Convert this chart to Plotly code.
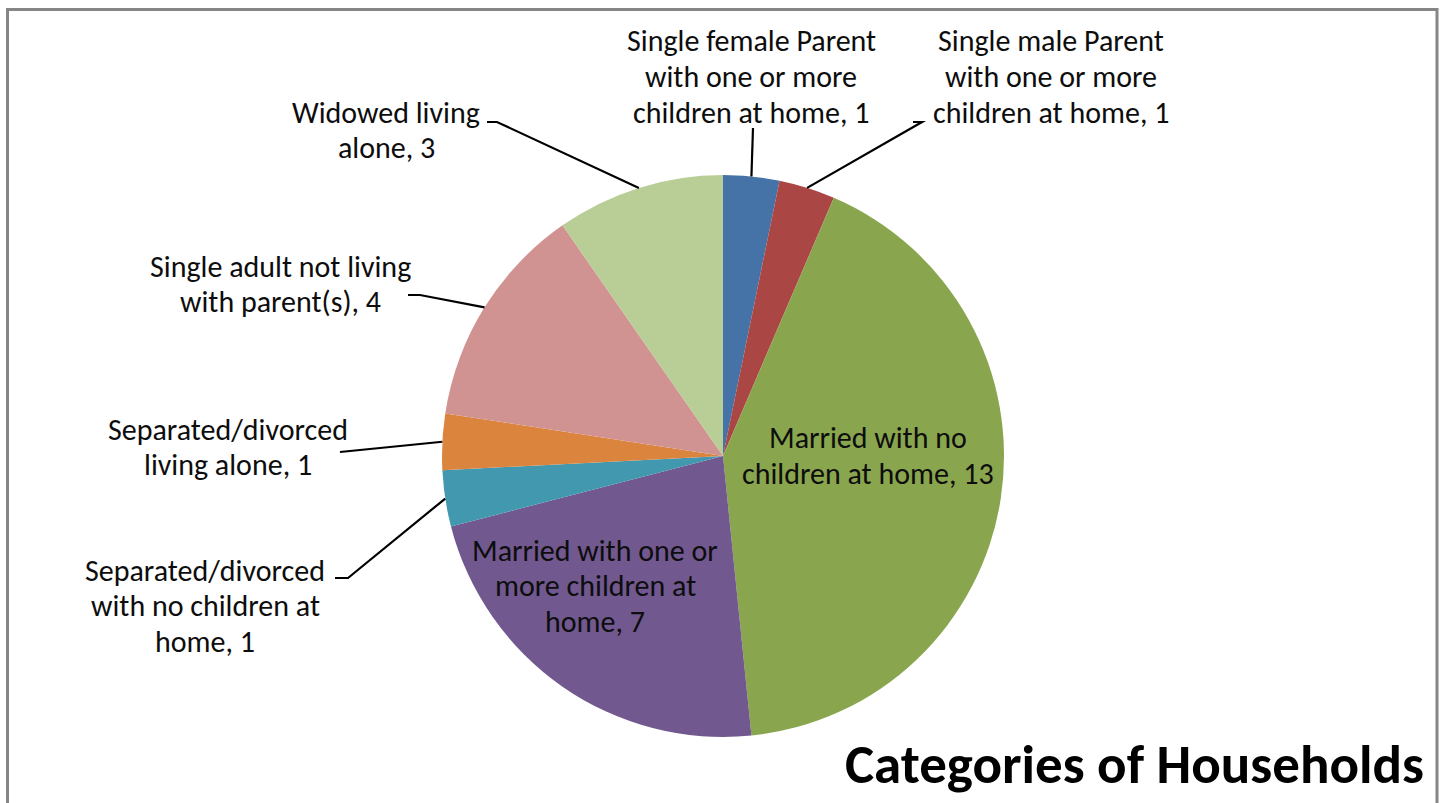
import math
import plotly.graph_objects as go

# ---------------- data ----------------
categories = [
    "Single female Parent with one or more children at home",
    "Single male Parent with one or more children at home",
    "Married with no children at home",
    "Married with one or more children at home",
    "Separated/divorced with no children at home",
    "Separated/divorced living alone",
    "Single adult not living with parent(s)",
    "Widowed living alone",
]
values = [1, 1, 13, 7, 1, 1, 4, 3]
label_lines = [
    ["Single female Parent", "with one or more", "children at home, 1"],
    ["Single male Parent", "with one or more", "children at home, 1"],
    ["Married with no", "children at home, 13"],
    ["Married with one or", "more children at", "home, 7"],
    ["Separated/divorced", "with no children at", "home, 1"],
    ["Separated/divorced", "living alone, 1"],
    ["Single adult not living", "with parent(s), 4"],
    ["Widowed living", "alone, 3"],
]
colors = ["#4572A7", "#AA4643", "#89A54E", "#71588F",
          "#4198AF", "#DB843D", "#D19392", "#B9CD96"]
title_text = "Categories of Households"

# ---------------- layout constants (pixels) ----------------
W, H = 1442, 803
CX, CY, R = 723, 456, 281
FONT = "Calibri, Carlito, Lato, sans-serif"
FS = 30
LINE_GAP = 35.5

# label centre x, first line centre y
label_pos = [
    (751, 41), (1051, 41), (868, 438), (595, 550),
    (205, 570), (228, 429), (280, 266), (386, 112),
]
# leader line start points (near the text); None = inside label
leader_start = [
    [(753, 128)],
    [(913, 122), (922, 122)],
    None,
    None,
    [(335, 578), (348, 578)],
    [(340, 452)],
    [(408, 295), (420, 295)],
    [(487, 122), (497, 122)],
]


def px(x):
    return x / W


def py(y):
    return 1 - y / H


fig = go.Figure(go.Pie(
    labels=categories,
    values=values,
    sort=False,
    direction="clockwise",
    rotation=0,
    marker=dict(colors=colors, line=dict(width=0)),
    textinfo="none",
    hoverinfo="label+value",
    showlegend=False,
    domain=dict(x=[px(CX - R), px(CX + R)], y=[py(CY + R), py(CY - R)]),
))

annotations = []
for (lx, ly), lines in zip(label_pos, label_lines):
    for i, t in enumerate(lines):
        annotations.append(dict(
            x=px(lx), y=py(ly + i * LINE_GAP), xref="paper", yref="paper",
            text=t, showarrow=False, xanchor="center", yanchor="middle",
            font=dict(family=FONT, size=FS, color="#0d0d0d"),
        ))

annotations.append(dict(
    x=px(1426), y=py(764), xref="paper", yref="paper",
    text="<b>" + title_text + "</b>", showarrow=False,
    xanchor="right", yanchor="middle",
    font=dict(family=FONT, size=55, color="#000000"),
))

shapes = []
total = sum(values)
cum = 0
for v, start in zip(values, leader_start):
    mid = (cum + v / 2) / total * 2 * math.pi
    cum += v
    if start is None:
        continue
    ex = CX + R * math.sin(mid)
    ey = CY - R * math.cos(mid)
    pts = list(start) + [(ex, ey)]
    path = "M " + " L ".join(f"{px(x):.5f},{py(y):.5f}" for x, y in pts)
    shapes.append(dict(type="path", path=path, xref="paper", yref="paper",
                       line=dict(color="#000000", width=2.2)))

# chart-area border
shapes.append(dict(type="rect", xref="paper", yref="paper",
                   x0=px(7.5), x1=px(1437), y0=py(808), y1=py(9.5),
                   line=dict(color="#868686", width=3)))

fig.update_layout(
    width=W, height=H,
    margin=dict(l=0, r=0, t=0, b=0),
    paper_bgcolor="white",
    plot_bgcolor="white",
    annotations=annotations,
    shapes=shapes,
)

fig.write_html(
    "out.html",
    config={"displayModeBar": False},
    post_script="document.body.style.margin='0';document.body.style.overflow='hidden';",
)
